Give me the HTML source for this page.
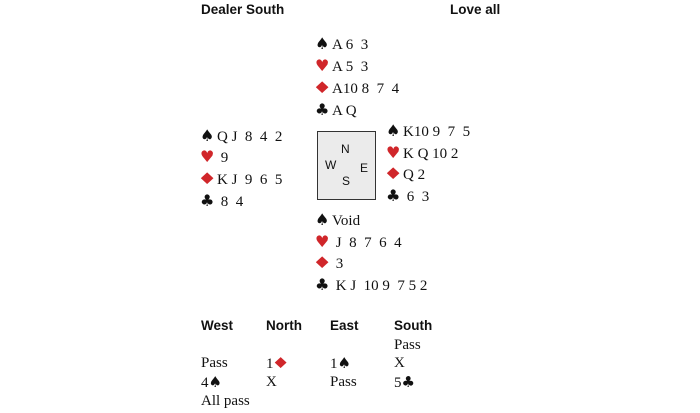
<!DOCTYPE html>
<html><head><style>
body{margin:0;width:700px;height:413px;background:#fff;position:relative;font-family:"Liberation Serif",serif;font-size:15px;color:#111;overflow:hidden}
.a{position:absolute;white-space:pre;line-height:16px}
.h{font-family:"Liberation Sans",sans-serif;font-weight:bold;font-size:13.5px}
.r{color:#d0262a}
.s{display:inline-block;width:17px;font-family:"DejaVu Sans",sans-serif;font-size:16px;line-height:16px}
.d{display:inline-block;transform:scaleX(1.4)}
.t{font-family:"DejaVu Sans",sans-serif;font-size:15px}
.box{position:absolute;left:317px;top:131px;width:57px;height:67px;border:1px solid #333;background:#ebebeb}
.c{position:absolute;font-family:"Liberation Sans",sans-serif;font-size:12px}
</style></head><body>
<div class="a h" style="left:201px;top:2px">Dealer South</div>
<div class="a h" style="left:450px;top:2px">Love all</div>

<div class="a" style="left:315px;top:36px"><span class="s">♠</span>A 6  3</div>
<div class="a" style="left:315px;top:58px"><span class="s r">♥</span>A 5  3</div>
<div class="a" style="left:315px;top:80px"><span class="s r"><span class="d">♦</span></span>A10 8  7  4</div>
<div class="a" style="left:315px;top:102px"><span class="s">♣</span>A Q</div>

<div class="a" style="left:200px;top:128px"><span class="s">♠</span>Q J  8  4  2</div>
<div class="a" style="left:200px;top:149px"><span class="s r">♥</span> 9</div>
<div class="a" style="left:200px;top:171px"><span class="s r"><span class="d">♦</span></span>K J  9  6  5</div>
<div class="a" style="left:200px;top:193px"><span class="s">♣</span> 8  4</div>

<div class="box"></div>
<div class="c" style="left:341px;top:142px">N</div>
<div class="c" style="left:325px;top:158px">W</div>
<div class="c" style="left:360px;top:161px">E</div>
<div class="c" style="left:342px;top:174px">S</div>

<div class="a" style="left:386px;top:123px"><span class="s">♠</span>K10 9  7  5</div>
<div class="a" style="left:386px;top:145px"><span class="s r">♥</span>K Q 10 2</div>
<div class="a" style="left:386px;top:166px"><span class="s r"><span class="d">♦</span></span>Q 2</div>
<div class="a" style="left:386px;top:188px"><span class="s">♣</span> 6  3</div>

<div class="a" style="left:315px;top:212px"><span class="s">♠</span>Void</div>
<div class="a" style="left:315px;top:234px"><span class="s r">♥</span> J  8  7  6  4</div>
<div class="a" style="left:315px;top:255px"><span class="s r"><span class="d">♦</span></span> 3</div>
<div class="a" style="left:315px;top:277px"><span class="s">♣</span> K J  10 9  7 5 2</div>

<div class="a h" style="left:201px;top:318px">West</div>
<div class="a h" style="left:266px;top:318px">North</div>
<div class="a h" style="left:330px;top:318px">East</div>
<div class="a h" style="left:394px;top:318px">South</div>
<div class="a" style="left:394px;top:337px">Pass</div>
<div class="a" style="left:201px;top:355px">Pass</div>
<div class="a" style="left:266px;top:355px">1<span class="t r"><span class="d">♦</span></span></div>
<div class="a" style="left:330px;top:355px">1<span class="t">♠</span></div>
<div class="a" style="left:394px;top:355px">X</div>
<div class="a" style="left:201px;top:374px">4<span class="t">♠</span></div>
<div class="a" style="left:266px;top:374px">X</div>
<div class="a" style="left:330px;top:374px">Pass</div>
<div class="a" style="left:394px;top:374px">5<span class="t">♣</span></div>
<div class="a" style="left:201px;top:393px">All pass</div>
</body></html>
